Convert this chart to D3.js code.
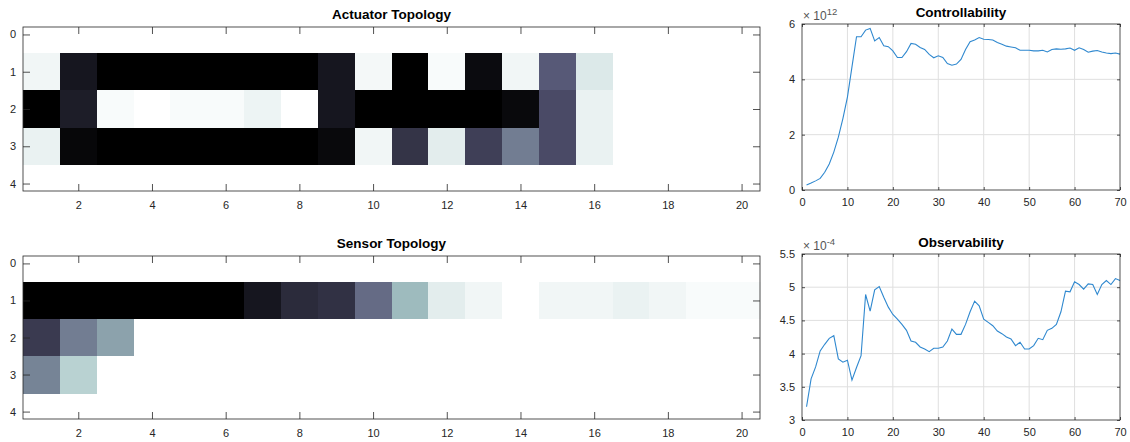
<!DOCTYPE html>
<html>
<head>
<meta charset="utf-8">
<script src="https://cdn.jsdelivr.net/npm/d3@7"></script>
<style>
  body { margin: 0; background: #fff; }
  svg { display: block; }
  text { font-family: "Liberation Sans", Arial, sans-serif; }
</style>
</head>
<body>
<div id="chart"></div>
<script>
// heatmap intensities (0 = white, 1 = black), rows 1..3, columns 1..20
const actuatorRows = [
    [0.04, 0.9, 1, 1, 1, 1, 1, 1, 0.9, 0.03, 1, 0.02, 0.95, 0.04, 0.61, 0.1, 0, 0, 0, 0],
    [1, 0.87, 0.02, 0, 0.02, 0.02, 0.05, 0, 0.9, 1, 1, 1, 1, 0.96, 0.67, 0.06, 0, 0, 0, 0],
    [0.06, 0.97, 1, 1, 1, 1, 1, 1, 0.96, 0.04, 0.77, 0.08, 0.72, 0.49, 0.67, 0.06, 0, 0, 0, 0]
];
const sensorRows = [
    [1, 1, 1, 1, 1, 1, 0.9, 0.81, 0.78, 0.55, 0.29, 0.08, 0.04, 0, 0.04, 0.04, 0.06, 0.04, 0.02, 0.02],
    [0.74, 0.49, 0.37, 0, 0, 0, 0, 0, 0, 0, 0, 0, 0, 0, 0, 0, 0, 0, 0, 0],
    [0.47, 0.2, 0, 0, 0, 0, 0, 0, 0, 0, 0, 0, 0, 0, 0, 0, 0, 0, 0, 0]
];

// controllability (x 1e12) and observability (x 1e-4), steps 1..70
const controllability = [
    0.18, 0.25, 0.33, 0.42, 0.64, 0.94, 1.37, 1.91, 2.58, 3.36,
    4.45, 5.54, 5.54, 5.78, 5.84, 5.39, 5.51, 5.21, 5.18, 5.03,
    4.79, 4.79, 5.0, 5.3, 5.27, 5.15, 5.08, 4.9, 4.78, 4.85,
    4.79, 4.57, 4.51, 4.55, 4.72, 5.08, 5.36, 5.42, 5.51, 5.45,
    5.44, 5.42, 5.33, 5.27, 5.2, 5.17, 5.14, 5.05, 5.05, 5.05,
    5.03, 5.03, 5.05, 4.99, 5.08, 5.1, 5.09, 5.1, 5.13, 5.05,
    5.14, 5.08, 4.98, 5.02, 5.04, 4.99, 4.95, 4.93, 4.95, 4.91
];
const observability = [
    3.2, 3.62, 3.8, 4.04, 4.14, 4.23, 4.27, 3.92, 3.87, 3.9,
    3.6, 3.79, 3.97, 4.89, 4.64, 4.96, 5.01, 4.85, 4.7, 4.59,
    4.52, 4.44, 4.35, 4.19, 4.17, 4.1, 4.07, 4.03, 4.08, 4.08,
    4.1, 4.19, 4.37, 4.29, 4.29, 4.44, 4.63, 4.79, 4.72, 4.52,
    4.47, 4.42, 4.34, 4.3, 4.25, 4.22, 4.12, 4.17, 4.07, 4.07,
    4.12, 4.23, 4.21, 4.35, 4.38, 4.44, 4.63, 4.94, 4.93, 5.08,
    5.04, 4.97, 5.05, 5.04, 4.89, 5.04, 5.1, 5.04, 5.13, 5.1
];

const heatXTicks = [2, 4, 6, 8, 10, 12, 14, 16, 18, 20];
const heatYTicks = [0, 1, 2, 3, 4];
const lineXTicks = [0, 10, 20, 30, 40, 50, 60, 70];
const ctrlYTicks = [0, 2, 4, 6];
const obsYTicks = [3, 3.5, 4, 4.5, 5, 5.5];

const W = 1130, H = 442;
const axisColor = "#262626";

const svg = d3.select("#chart").append("svg")
    .attr("width", W)
    .attr("height", H);

// reversed MATLAB "bone" colormap
const bone = d3.scaleLinear()
    .domain([0, 0.25, 0.625, 1])
    .range(["#ffffff", "#a7c7c7", "#545474", "#000000"]);

function drawHeatmap(rows, box, title) {
    let x = d3.scaleLinear().domain([0.5, 20.5]).range([box.left, box.right]);
    let y = d3.scaleLinear().domain([-0.2, 4.2]).range([box.top, box.bottom]);
    let g = svg.append("g");

    let cells = [];
    rows.forEach((r, i) => r.forEach((v, j) => cells.push({row: i + 1, col: j + 1, v: v})));

    g.selectAll("rect.cell")
        .data(cells)
        .enter().append("rect")
        .attr("class", "cell")
        .attr("shape-rendering", "crispEdges")
        .attr("x", d => x(d.col - 0.5))
        .attr("y", d => y(d.row - 0.5))
        .attr("width", d => x(d.col + 0.5) - x(d.col - 0.5) + 0.5)
        .attr("height", d => y(d.row + 0.5) - y(d.row - 0.5) + 0.5)
        .attr("fill", d => bone(d.v));

    let tl = 7;
    g.append("g").attr("transform", `translate(0,${box.bottom})`)
        .call(d3.axisBottom(x).tickValues(heatXTicks).tickSize(-tl).tickSizeOuter(0).tickPadding(10).tickFormat(d3.format("d")));
    g.append("g").attr("transform", `translate(0,${box.top})`)
        .call(d3.axisTop(x).tickValues(heatXTicks).tickSize(-tl).tickSizeOuter(0).tickFormat(""));
    g.append("g").attr("transform", `translate(${box.left},0)`)
        .call(d3.axisLeft(y).tickValues(heatYTicks).tickSize(-tl).tickSizeOuter(0).tickPadding(7).tickFormat(d3.format("d")));
    g.append("g").attr("transform", `translate(${box.right},0)`)
        .call(d3.axisRight(y).tickValues(heatYTicks).tickSize(-tl).tickSizeOuter(0).tickFormat(""));

    styleAxes(g);
    frame(g, box);

    g.append("text")
        .attr("x", (box.left + box.right) / 2)
        .attr("y", box.top - 8)
        .attr("text-anchor", "middle")
        .attr("font-size", "13.5px")
        .attr("font-weight", "bold")
        .attr("fill", "#000")
        .text(title);
}

function drawLine(values, yDomain, yTicks, box, title, exponent) {
    let x = d3.scaleLinear().domain([0, 70]).range([box.left, box.right]);
    let y = d3.scaleLinear().domain(yDomain).range([box.bottom, box.top]);
    let g = svg.append("g");

    // grid
    g.selectAll("line.gx")
        .data(lineXTicks.slice(1, -1))
        .enter().append("line")
        .attr("x1", d => x(d)).attr("x2", d => x(d))
        .attr("y1", box.top).attr("y2", box.bottom)
        .attr("stroke", "#dfdfdf");
    g.selectAll("line.gy")
        .data(yTicks.slice(1, -1))
        .enter().append("line")
        .attr("x1", box.left).attr("x2", box.right)
        .attr("y1", d => y(d)).attr("y2", d => y(d))
        .attr("stroke", "#dfdfdf");

    let tl = 3;
    g.append("g").attr("transform", `translate(0,${box.bottom})`)
        .call(d3.axisBottom(x).tickValues(lineXTicks).tickSize(-tl).tickSizeOuter(0).tickPadding(8));
    g.append("g").attr("transform", `translate(0,${box.top})`)
        .call(d3.axisTop(x).tickValues(lineXTicks).tickSize(-tl).tickSizeOuter(0).tickFormat(""));
    g.append("g").attr("transform", `translate(${box.left},0)`)
        .call(d3.axisLeft(y).tickValues(yTicks).tickSize(-tl).tickSizeOuter(0).tickPadding(7).tickFormat(d3.format("~g")));
    g.append("g").attr("transform", `translate(${box.right},0)`)
        .call(d3.axisRight(y).tickValues(yTicks).tickSize(-tl).tickSizeOuter(0).tickFormat(""));

    styleAxes(g);

    let line = d3.line()
        .x((d, i) => x(i + 1))
        .y(d => y(d));

    g.append("path")
        .datum(values)
        .attr("d", line)
        .attr("fill", "none")
        .attr("stroke", "#2f88cf")
        .attr("stroke-width", 1.1);

    frame(g, box);

    g.append("text")
        .attr("x", (box.left + box.right) / 2)
        .attr("y", box.top - 7)
        .attr("text-anchor", "middle")
        .attr("font-size", "13.5px")
        .attr("font-weight", "bold")
        .attr("fill", "#000")
        .text(title);

    let ex = g.append("text")
        .attr("x", box.left + 1)
        .attr("y", box.top - 4)
        .attr("font-size", "12px")
        .attr("fill", "#555");
    ex.append("tspan").text("\u00d7 10");
    ex.append("tspan").attr("dy", -5).attr("font-size", "9.5px").text(exponent);
}

function styleAxes(g) {
    g.selectAll(".domain").remove();
    g.selectAll(".tick line").attr("stroke", axisColor).attr("stroke-width", 0.8);
    g.selectAll(".tick text")
        .attr("fill", axisColor)
        .attr("font-size", "11px")
        .attr("font-family", "Liberation Sans, Arial, sans-serif");
}

function frame(g, box) {
    g.append("rect")
        .attr("x", box.left)
        .attr("y", box.top)
        .attr("width", box.right - box.left)
        .attr("height", box.bottom - box.top)
        .attr("fill", "none")
        .attr("stroke", axisColor)
        .attr("stroke-width", 0.8);
}

drawHeatmap(actuatorRows, {left: 23, right: 760, top: 27, bottom: 191}, "Actuator Topology");
drawHeatmap(sensorRows, {left: 23, right: 760, top: 256, bottom: 419}, "Sensor Topology");
drawLine(controllability, [0, 6], ctrlYTicks, {left: 802, right: 1120, top: 24, bottom: 190}, "Controllability", "12");
drawLine(observability, [3, 5.5], obsYTicks, {left: 802, right: 1120, top: 254, bottom: 420}, "Observability", "-4");
</script>
</body>
</html>
